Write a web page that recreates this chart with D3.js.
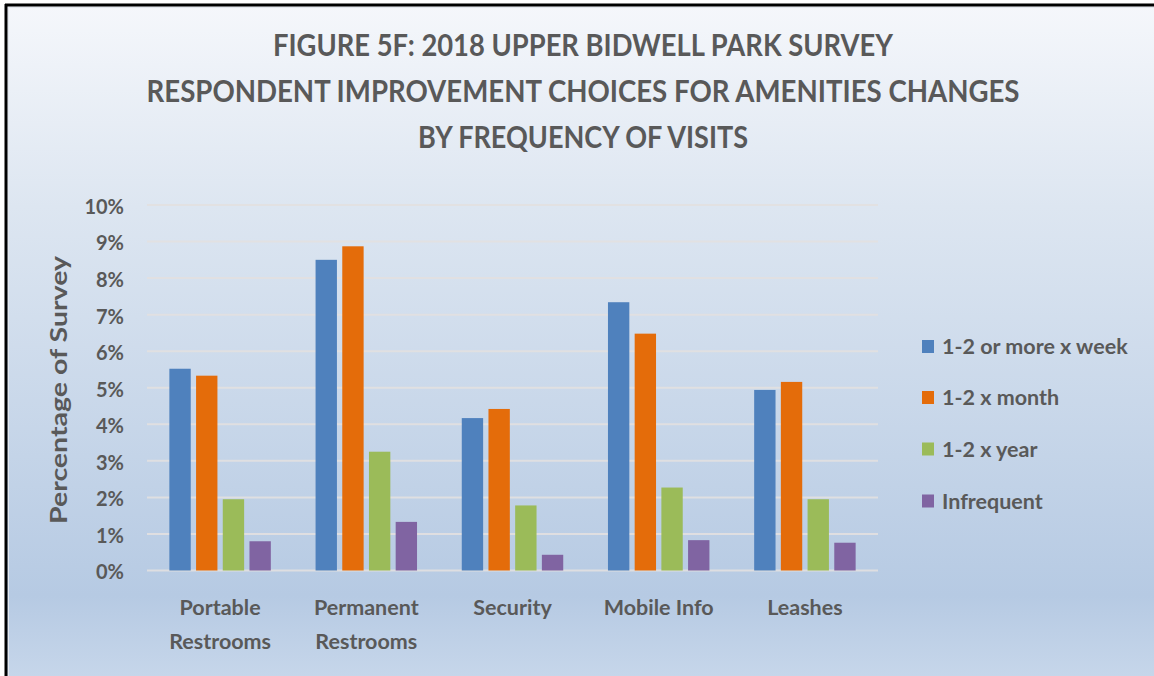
<!DOCTYPE html>
<html>
<head>
<meta charset="utf-8">
<script src="https://cdn.jsdelivr.net/npm/d3@7/dist/d3.min.js"></script>
<style>
  html, body { margin: 0; padding: 0; background: #ffffff; }
  svg { display: block; }
  text { font-family: Lato, "Open Sans", "DejaVu Sans", sans-serif; fill: #595959; }
</style>
</head>
<body>
<svg id="chart" width="1154" height="676"></svg>
<script>
// Amenity categories (x axis), each split across four visit frequencies
const categories = [["Portable", "Restrooms"], ["Permanent", "Restrooms"], ["Security"], ["Mobile Info"], ["Leashes"]];
const seriesNames = ["1-2 or more x week", "1-2 x month", "1-2 x year", "Infrequent"];
const seriesColors = ["#4f81bd", "#e46c0a", "#9bbb59", "#8064a2"];

// Share of survey respondents, in percent
const weekly     = [5.52, 8.50, 4.17, 7.34, 4.94];
const monthly    = [5.33, 8.87, 4.42, 6.48, 5.16];
const yearly     = [1.95, 3.25, 1.78, 2.27, 1.95];
const infrequent = [0.80, 1.33, 0.43, 0.83, 0.76];

const yTicks = [0, 1, 2, 3, 4, 5, 6, 7, 8, 9, 10];
const titleLines = [
  "FIGURE 5F: 2018 UPPER BIDWELL PARK SURVEY",
  "RESPONDENT IMPROVEMENT CHOICES FOR AMENITIES CHANGES",
  "BY FREQUENCY OF VISITS"
];
const yAxisTitle = "Percentage of Survey";

const seriesValues = [weekly, monthly, yearly, infrequent];
const rows = categories.map((c, i) => ({
  key: i,
  label: c,
  values: seriesValues.map((s, j) => ({ series: j, value: s[i] }))
}));

const svg = d3.select("#chart");
const W = 1154, H = 676;

// Background panel with vertical gradient
const defs = svg.append("defs");
const grad = defs.append("linearGradient").attr("id", "bg").attr("x1", 0).attr("y1", 0).attr("x2", 0).attr("y2", 1);
grad.append("stop").attr("offset", "0%").attr("stop-color", "#f5f7fb");
grad.append("stop").attr("offset", "30%").attr("stop-color", "#dde6f1");
grad.append("stop").attr("offset", "88%").attr("stop-color", "#b6cae3");
grad.append("stop").attr("offset", "100%").attr("stop-color", "#c6d6ea");

svg.append("rect").attr("x", 7).attr("y", 6).attr("width", W - 7).attr("height", H - 6).attr("fill", "url(#bg)");
svg.append("rect").attr("x", 8.5).attr("y", 7.5).attr("width", W - 8).attr("height", H - 7).attr("fill", "none")
  .attr("stroke", "#e4e8ee").attr("stroke-width", 1);
// Frame edges: top and left
svg.append("line").attr("x1", 5).attr("x2", W).attr("y1", 5).attr("y2", 5).attr("stroke", "#000").attr("stroke-width", 3);
svg.append("line").attr("x1", 6).attr("x2", 6).attr("y1", 4).attr("y2", H).attr("stroke", "#000").attr("stroke-width", 3);

// Title
const titleBaselines = [56, 102, 148];
const titleWidths = [620, 873, 330];
svg.append("g").selectAll("text").data(titleLines).join("text")
  .attr("x", 583).attr("y", (d, i) => titleBaselines[i])
  .attr("text-anchor", "middle")
  .attr("font-size", 30).attr("font-weight", 700)
  .attr("textLength", (d, i) => titleWidths[i])
  .attr("lengthAdjust", "spacingAndGlyphs")
  .text(d => d);

// Scales
const plot = { left: 147, right: 878, top: 205, bottom: 570.5 };
const x0 = d3.scaleBand().domain(rows.map(r => r.key)).range([plot.left, plot.right])
  .paddingInner(0.306).paddingOuter(0.153);
const x1 = d3.scaleBand().domain(d3.range(seriesNames.length)).range([0, x0.bandwidth()])
  .paddingInner(0.2).paddingOuter(0);
const y = d3.scaleLinear().domain([0, 10]).range([plot.bottom, plot.top]);

// Gridlines
svg.append("g").selectAll("line").data(yTicks).join("line")
  .attr("x1", plot.left).attr("x2", plot.right)
  .attr("y1", d => y(d)).attr("y2", d => y(d))
  .attr("stroke", "#e2e0e0").attr("stroke-opacity", 0.9).attr("stroke-width", 2);

// Y axis labels
const yAxis = d3.axisLeft(y).tickValues(yTicks).tickSize(0).tickPadding(0).tickFormat(d => d + "%");
const yG = svg.append("g").attr("transform", `translate(${plot.left - 23},0)`).call(yAxis);
yG.select(".domain").remove();
yG.selectAll("text")
  .attr("font-size", 20).attr("font-weight", 700)
  .attr("fill", "#595959").attr("dy", "0.42em")
  .style("font-family", "Lato, 'Open Sans', sans-serif");

// Y axis title
svg.append("text")
  .attr("transform", "translate(67,390) rotate(-90)")
  .attr("text-anchor", "middle")
  .attr("font-size", 22).attr("font-weight", 700)
  .attr("textLength", 268).attr("lengthAdjust", "spacingAndGlyphs")
  .text(yAxisTitle);

// Bars
svg.append("g").selectAll("g").data(rows).join("g")
  .attr("transform", d => `translate(${x0(d.key)},0)`)
  .selectAll("rect").data(d => d.values).join("rect")
  .attr("x", d => x1(d.series))
  .attr("width", x1.bandwidth())
  .attr("y", d => y(d.value))
  .attr("height", d => y(0) - y(d.value))
  .attr("fill", d => seriesColors[d.series]);

// Category labels
const xLab = svg.append("g").selectAll("text").data(rows).join("text")
  .attr("x", d => x0(d.key) + x0.bandwidth() / 2)
  .attr("y", 615)
  .attr("text-anchor", "middle")
  .attr("font-size", 21.5).attr("font-weight", 700);
xLab.selectAll("tspan").data(d => d.label).join("tspan")
  .attr("x", function () { return d3.select(this.parentNode).attr("x"); })
  .attr("dy", (d, i) => i === 0 ? 0 : 34)
  .text(d => d);

// Legend
const legendY = [346.5, 397.5, 449, 501];
const leg = svg.append("g").selectAll("g").data(seriesNames).join("g")
  .attr("transform", (d, i) => `translate(922,${legendY[i]})`);
leg.append("rect").attr("x", 0).attr("y", -6.5).attr("width", 12).attr("height", 13)
  .attr("fill", (d, i) => seriesColors[i]);
leg.append("text").attr("x", 20).attr("y", 0).attr("dy", "0.36em")
  .attr("font-size", 21.5).attr("font-weight", 700)
  .text(d => d);
</script>
</body>
</html>
